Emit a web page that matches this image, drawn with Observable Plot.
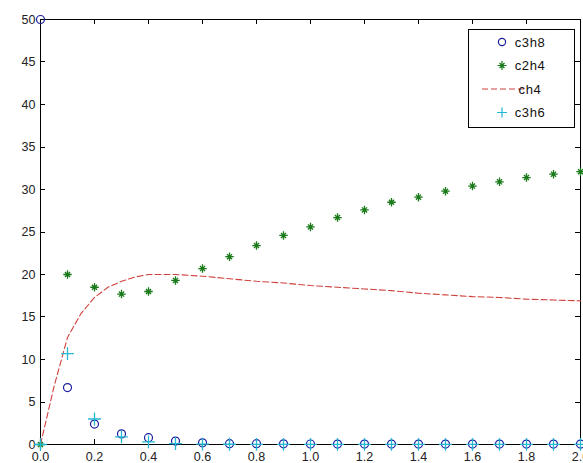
<!DOCTYPE html>
<html><head><meta charset="utf-8">
<script src="https://cdn.jsdelivr.net/npm/d3@7"></script>
<script src="https://cdn.jsdelivr.net/npm/@observablehq/plot@0.6"></script>
<style>
body{margin:0;background:#fff;overflow:hidden}
#wrap{position:relative;width:583px;height:463px;overflow:hidden}
</style>
</head><body><div id="wrap"></div>
<script>
const times = [0,0.1,0.2,0.3,0.4,0.5,0.6,0.7,0.8,0.9,1.0,1.1,1.2,1.3,1.4,1.5,1.6,1.7,1.8,1.9,2.0];
const c3h8 = [50,6.7,2.4,1.25,0.8,0.4,0.2,0.1,0.1,0.08,0.06,0.05,0.05,0.05,0.05,0.05,0.05,0.05,0.05,0.05,0.05];
const c2h4 = [0,20.0,18.5,17.7,18.0,19.3,20.7,22.1,23.4,24.6,25.6,26.7,27.6,28.5,29.1,29.8,30.4,30.9,31.4,31.8,32.1];
const c3h6 = [0,10.7,3.0,0.9,0.3,0.1,0.05,0.03,0.02,0.02,0.01,0.01,0.01,0.01,0.01,0.01,0.01,0.01,0.01,0.01,0.01];
const ch4T = [0,0.025,0.05,0.1,0.15,0.2,0.25,0.3,0.35,0.4,0.5,0.6,0.7,0.8,0.9,1.0,1.1,1.2,1.3,1.4,1.5,1.6,1.7,1.8,1.9,2.0];
const ch4  = [0,3.4,6.8,12.6,15.4,17.3,18.5,19.2,19.7,20.0,20.0,19.8,19.5,19.2,19.0,18.7,18.5,18.3,18.1,17.8,17.6,17.4,17.3,17.1,17.0,16.9];
const xTicks = [0,0.2,0.4,0.6,0.8,1,1.2,1.4,1.6,1.8,2];
const yTicks = [0,5,10,15,20,25,30,35,40,45,50];
const seriesNames = ["c3h8","c2h4","ch4","c3h6"];

const colC3h8 = "#1c1c9c", colC2h4 = "#1a7a1a", colCh4 = "#d0403c", colC3h6 = "#22b8d4";

const pts = (ys) => times.map((t,i) => ({t, v: ys[i]}));
const linePts = ch4T.map((t,i) => ({t, v: ch4[i]}));

// inward ticks on all four sides, positioned through the plot's scales
function inwardTicks(index, scales, values, dim) {
  const g = d3.create("svg:g").attr("stroke", "black").attr("stroke-width", 1);
  const L = dim.marginLeft, R = dim.width - dim.marginRight;
  const T = dim.marginTop, B = dim.height - dim.marginBottom;
  const len = 5;
  xTicks.forEach(v => {
    const px = Math.round(scales.x(v)) + 0.5;
    g.append("line").attr("x1", px).attr("x2", px).attr("y1", B).attr("y2", B - len);
    g.append("line").attr("x1", px).attr("x2", px).attr("y1", T).attr("y2", T + len);
  });
  yTicks.forEach(v => {
    const py = Math.round(scales.y(v)) + 0.5;
    g.append("line").attr("x1", L).attr("x2", L + len).attr("y1", py).attr("y2", py);
    g.append("line").attr("x1", R).attr("x2", R - len).attr("y1", py).attr("y2", py);
  });
  return g.node();
}

function legend(index, scales, values, dim) {
  const g = d3.create("svg:g");
  const x0 = 468, y0 = 29, w = 106, h = 98;
  g.append("rect").attr("x", x0+0.5).attr("y", y0+0.5).attr("width", w).attr("height", h)
    .attr("fill", "white").attr("stroke", "black");
  seriesNames.forEach((name, i) => {
    const cy = y0 + 13 + i*23.5;
    const mx = 502;
    if (name === "c3h8") {
      g.append("circle").attr("cx", mx).attr("cy", cy).attr("r", 3.6).attr("fill","none").attr("stroke", colC3h8).attr("stroke-width",1.2);
    } else if (name === "c2h4") {
      g.append("path").attr("d", `M${mx-4.5},${cy}H${mx+4.5}M${mx},${cy-4.5}V${cy+4.5}M${mx-2.5},${cy-2.5}L${mx+2.5},${cy+2.5}M${mx-2.5},${cy+2.5}L${mx+2.5},${cy-2.5}`)
        .attr("stroke", colC2h4).attr("stroke-width",1.2);
    } else if (name === "ch4") {
      g.append("line").attr("x1", 482).attr("x2", 525).attr("y1", cy).attr("y2", cy)
        .attr("stroke", colCh4).attr("stroke-dasharray","6,3");
    } else {
      g.append("path").attr("d", `M${mx-5},${cy}H${mx+5}M${mx},${cy-5}V${cy+5}`).attr("stroke", colC3h6).attr("stroke-width",1.2);
    }
    g.append("text").attr("x", 530).attr("y", cy).attr("dy","0.35em")
      .attr("font-size", 13).attr("letter-spacing", "0.6px").attr("fill","#111").text(name);
  });
  return g.node();
}

// MATLAB-style asterisk: a plus with a shorter diagonal cross
const asterisk = {
  draw(context, size) {
    const r = Math.sqrt(size / Math.PI) * 1.25;
    const d = r * 0.6;
    context.moveTo(-r, 0); context.lineTo(r, 0);
    context.moveTo(0, -r); context.lineTo(0, r);
    context.moveTo(-d, -d); context.lineTo(d, d);
    context.moveTo(-d, d); context.lineTo(d, -d);
  }
};

const chart = Plot.plot({
  width: 583, height: 463,
  marginLeft: 40, marginRight: 3, marginTop: 19, marginBottom: 19,
  style: {fontFamily: "Liberation Sans, Arial, sans-serif", fontSize: "12.5px", background: "white", color: "#222"},
  x: {domain: [0,2], label: null},
  y: {domain: [0,50], label: null},
  marks: [
    Plot.frame({stroke: "black"}),
    Plot.axisX(xTicks, {anchor: "bottom", tickSize: 0, tickPadding: 8, letterSpacing: 0.8}),
    Plot.axisY(yTicks, {anchor: "left", tickSize: 0, tickPadding: 5, letterSpacing: 0.8}),
    inwardTicks,
    Plot.line(linePts, {x: "t", y: "v", stroke: colCh4, strokeWidth: 1.1, strokeDasharray: "6,3"}),
    Plot.dot(pts(c3h8), {x: "t", y: "v", symbol: "circle", r: 4, stroke: colC3h8, strokeWidth: 1.2, fill: "none"}),
    Plot.dot(pts(c2h4), {x: "t", y: "v", symbol: asterisk, r: 3.4, stroke: colC2h4, strokeWidth: 1.3}),
    Plot.dot(pts(c3h6), {x: "t", y: "v", symbol: "plus", r: 4.2, stroke: colC3h6, strokeWidth: 1.3}),
    legend
  ]
});
document.getElementById("wrap").append(chart);
</script>
</body></html>
